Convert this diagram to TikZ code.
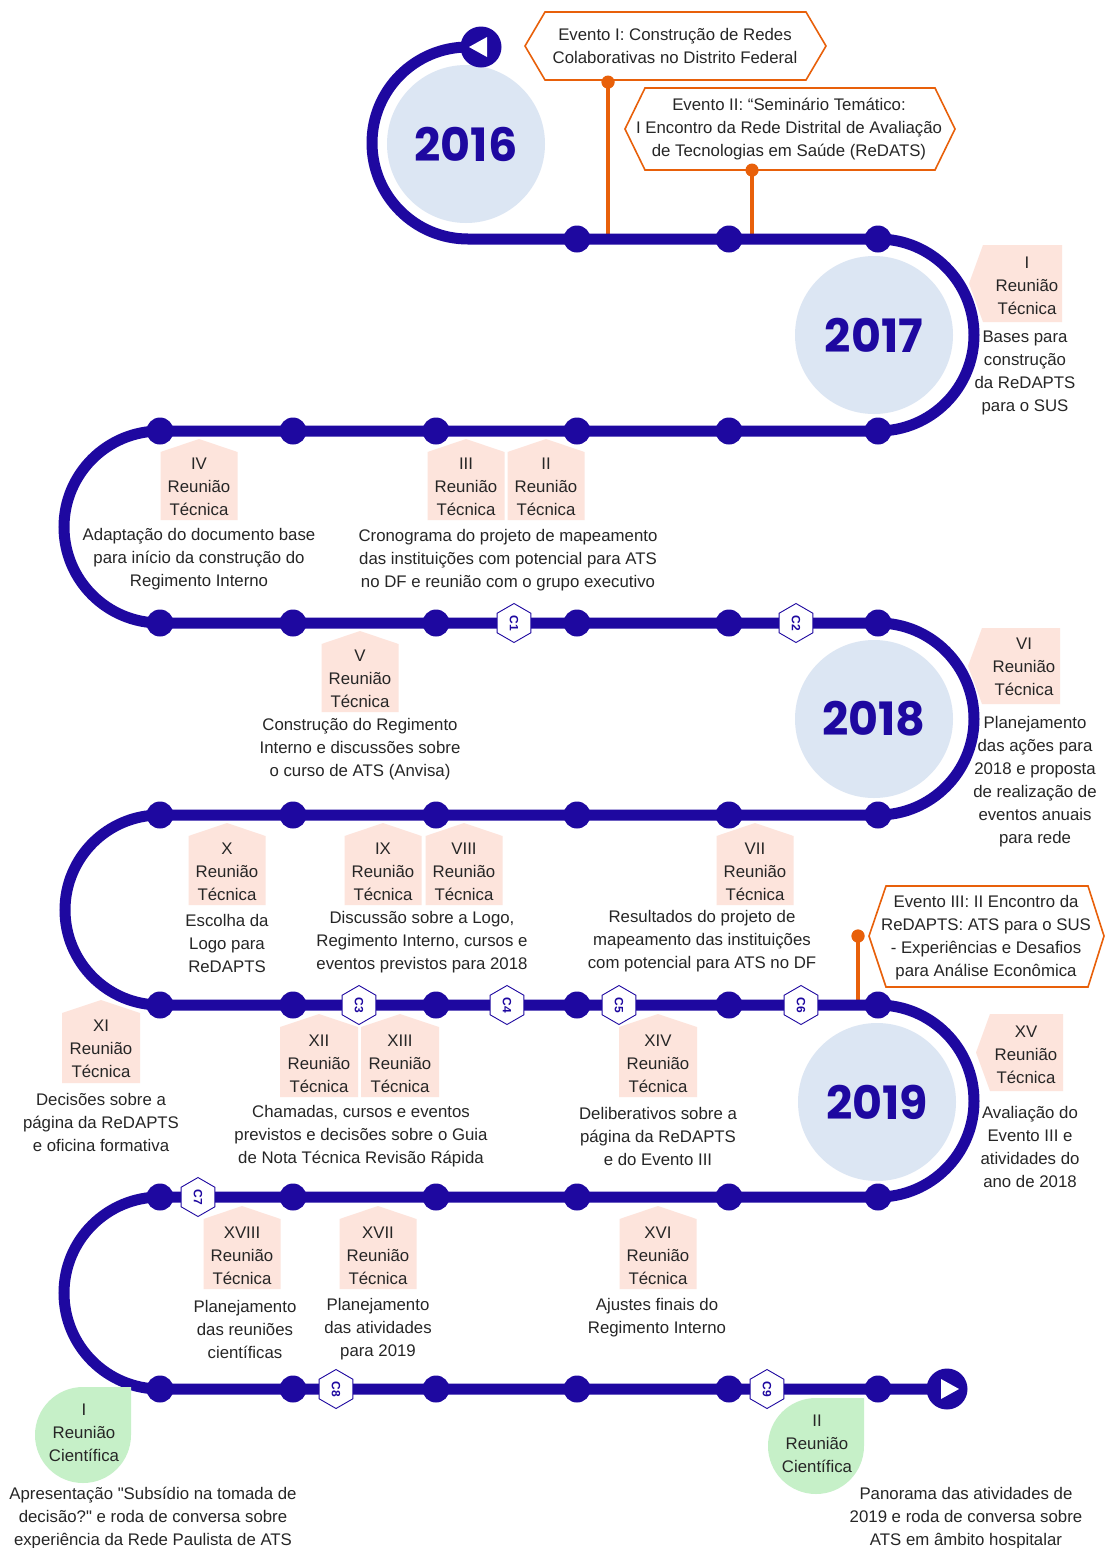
\documentclass[tikz,border=0pt]{standalone}
\usepackage{fontspec}
\setmainfont{Liberation Sans}[Ligatures=TeXOff]
\newfontfamily\yearfont{Poppins}
\usetikzlibrary{shapes.geometric}
\definecolor{trackblue}{RGB}{30,8,160}
\definecolor{yearfill}{RGB}{220,230,243}
\definecolor{pinkfill}{RGB}{253,228,220}
\definecolor{greenfill}{RGB}{198,240,200}
\definecolor{orangec}{RGB}{232,96,10}
\definecolor{textgray}{RGB}{38,38,38}
\tikzset{
 track/.style={draw=trackblue, line width=11},
 dotn/.style={circle, fill=trackblue, minimum size=27, inner sep=0},
 endn/.style={circle, fill=trackblue, minimum size=41, inner sep=0},
 txt/.style={align=center, inner sep=0, text=textgray, font=\fontsize{16.8}{23}\selectfont},
 yearn/.style={circle, fill=yearfill, minimum size=158, inner sep=0, text=trackblue, font=\yearfont\bfseries\fontsize{46}{46}\selectfont},
 hexm/.style={regular polygon, regular polygon sides=6, minimum size=39, inner sep=0, draw=trackblue, line width=0.9, fill=white, text=trackblue, font=\bfseries\fontsize{12}{12}\selectfont, rotate=-90},
 evbox/.style={draw=orangec, line width=1.6, fill=white},
 stem/.style={draw=orangec, line width=4.5},
 stemdot/.style={circle, fill=orangec, minimum size=13, inner sep=0},
}
\newcommand{\uplab}[4]{\fill[pinkfill] ({#1-#4},#3) -- ({#1-#4},{#2+13}) -- (#1,#2) -- ({#1+#4},{#2+13}) -- ({#1+#4},#3) -- cycle;}
\newcommand{\leftlab}[5]{\fill[pinkfill] (#1,{(#3+#4)/2}) -- ({#1+#5},#3) -- (#2,#3) -- (#2,#4) -- ({#1+#5},#4) -- cycle;}
\newcommand{\gblob}[3]{\fill[greenfill] ({#1+#3},#2) arc[start angle=0, end angle=270, radius=#3] -- ({#1+#3},{#2-#3}) -- cycle;}
\begin{document}
\begin{tikzpicture}[x=1pt,y=-1pt]
\useasboundingbox (0,0) rectangle (1106,1548);
\fill[white] (0,0) rectangle (1106,1548);

% year circles
\node[yearn] (y2016) at (466,144) {2016};
\node[yearn] (y2017) at (874,335) {2017};
\node[yearn] (y2018) at (874,719) {2018};
\node[yearn] (y2019) at (877,1102) {2019};

% event stems
\node[stemdot] (ev1dot) at (608,82) {};
\node[stemdot] (ev2dot) at (752,170) {};
\node[stemdot] (ev3dot) at (858,936) {};
\coordinate (s1) at (608,239);
\coordinate (s2) at (752,239);
\coordinate (s3) at (858,1005);
\draw[stem] (ev1dot.center) -- (s1);
\draw[stem] (ev2dot.center) -- (s2);
\draw[stem] (ev3dot.center) -- (s3);

% track
\draw[track] (481,47) -- (468,47) arc[start angle=270, end angle=90, radius=96]
  -- (878,239) arc[start angle=270, end angle=450, radius=96]
  -- (160,431) arc[start angle=270, end angle=90, radius=96]
  -- (878,623) arc[start angle=270, end angle=450, radius=96]
  -- (160,815) arc[start angle=270, end angle=90, radius=95]
  -- (878,1005) arc[start angle=270, end angle=450, radius=96]
  -- (160,1197) arc[start angle=270, end angle=90, radius=96]
  -- (947,1389);

% dots
\foreach \x in {577,729,878} \node[dotn] (dA-\x) at (\x,239) {};
\foreach \r/\y in {B/431,C/623,D/815,E/1005,F/1197,G/1389}
  \foreach \x in {160,293,436,577,729,878} \node[dotn] (d\r-\x) at (\x,\y) {};

% start / end
\node[endn] (start) at (481,47) {};
\fill[white] (469,47) -- (487,37) -- (487,57) -- cycle;
\node[endn] (finish) at (947,1389) {};
\fill[white] (959,1389) -- (941,1379) -- (941,1399) -- cycle;

% hexagon markers
\node[hexm] (c1) at (514,623) {C1};
\node[hexm] (c2) at (796,623) {C2};
\node[hexm] (c3) at (359,1005) {C3};
\node[hexm] (c4) at (507,1005) {C4};
\node[hexm] (c5) at (619,1005) {C5};
\node[hexm] (c6) at (801,1005) {C6};
\node[hexm] (c7) at (198,1197) {C7};
\node[hexm] (c8) at (336,1389) {C8};
\node[hexm] (c9) at (767,1389) {C9};

% event boxes
\draw[evbox] (525,46) -- (545,12) -- (806,12) -- (826,46) -- (806,80) -- (545,80) -- cycle;
\node[txt, text=black!85] (ev1) at (675,46) {Evento I: Construção de Redes\\Colaborativas no Distrito Federal};
\draw[evbox] (625,129) -- (645,88) -- (935,88) -- (955,129) -- (935,170) -- (645,170) -- cycle;
\node[txt, text=black!85] (ev2) at (789,129) {Evento II: “Seminário Temático:\\I Encontro da Rede Distrital de Avaliação\\de Tecnologias em Saúde (ReDATS)};
\draw[evbox] (869,936) -- (886,886) -- (1088,886) -- (1104,936) -- (1088,987) -- (886,987) -- cycle;
\node[txt, text=black!85] (ev3) at (986,938) {Evento III: II Encontro da\\ReDAPTS: ATS para o SUS\\- Experiências e Desafios\\para Análise Econômica};
\node[stemdot] at (ev1dot) {};
\node[stemdot] at (ev2dot) {};
\node[stemdot] at (ev3dot) {};

% pink labels
\leftlab{969}{1062}{245}{322}{14}
\node[txt] (l1) at (1027,286) {I\\Reunião\\Técnica};
\node[txt] (t1) at (1025,373) {Bases para\\construção\\da ReDAPTS\\para o SUS};

\uplab{199}{439}{520}{38.5}
\node[txt] (l4) at (199,487) {IV\\Reunião\\Técnica};
\node[txt] (t4) at (199,559) {Adaptação do documento base\\para início da construção do\\Regimento Interno};

\uplab{466}{439}{520}{38.5}
\uplab{546}{439}{520}{38.5}
\node[txt] (l3) at (466,487) {III\\Reunião\\Técnica};
\node[txt] (l2) at (546,487) {II\\Reunião\\Técnica};
\node[txt] (t23) at (508,560) {Cronograma do projeto de mapeamento\\das instituições com potencial para ATS\\no DF e reunião com o grupo executivo};

\uplab{360}{631}{712}{38.5}
\node[txt] (l5) at (360,679) {V\\Reunião\\Técnica};
\node[txt] (t5) at (360,749) {Construção do Regimento\\Interno e discussões sobre\\o curso de ATS (Anvisa)};

\leftlab{968}{1060}{628}{704}{14}
\node[txt] (l6) at (1024,667) {VI\\Reunião\\Técnica};
\node[txt] (t6) at (1035,782) {Planejamento\\das ações para\\2018 e proposta\\de realização de\\eventos anuais\\para rede};

\uplab{227}{823}{905}{38.5}
\node[txt] (l10) at (227,872) {X\\Reunião\\Técnica};
\node[txt] (t10) at (227,943) {Escolha da\\Logo para\\ReDAPTS};

\uplab{383}{823}{905}{38.5}
\uplab{464}{823}{905}{38.5}
\node[txt] (l9) at (383,872) {IX\\Reunião\\Técnica};
\node[txt] (l8) at (464,872) {VIII\\Reunião\\Técnica};
\node[txt] (t89) at (422,942) {Discussão sobre a Logo,\\Regimento Interno, cursos e\\eventos previstos para 2018};

\uplab{755}{823}{905}{38.5}
\node[txt] (l7) at (755,872) {VII\\Reunião\\Técnica};
\node[txt] (t7) at (702,941) {Resultados do projeto de\\mapeamento das instituições\\com potencial para ATS no DF};

\uplab{101}{1000}{1083}{39}
\node[txt] (l11) at (101,1049) {XI\\Reunião\\Técnica};
\node[txt] (t11) at (101,1122) {Decisões sobre a\\página da ReDAPTS\\e oficina formativa};

\uplab{319}{1014}{1097}{39}
\uplab{400}{1014}{1097}{39}
\node[txt] (l12) at (319,1064) {XII\\Reunião\\Técnica};
\node[txt] (l13) at (400,1064) {XIII\\Reunião\\Técnica};
\node[txt] (t1213) at (361,1136) {Chamadas, cursos e eventos\\previstos e decisões sobre o Guia\\de Nota Técnica Revisão Rápida};

\uplab{658}{1014}{1097}{39}
\node[txt] (l14) at (658,1064) {XIV\\Reunião\\Técnica};
\node[txt] (t14) at (658,1136) {Deliberativos sobre a\\página da ReDAPTS\\e do Evento III};

\leftlab{976}{1063}{1014}{1091}{14}
\node[txt] (l15) at (1026,1055) {XV\\Reunião\\Técnica};
\node[txt] (t15) at (1030,1147) {Avaliação do\\Evento III e\\atividades do\\ano de 2018};

\uplab{242}{1206}{1289}{38.5}
\node[txt] (l18) at (242,1256) {XVIII\\Reunião\\Técnica};
\node[txt] (t18) at (245,1329) {Planejamento\\das reuniões\\científicas};

\uplab{378}{1206}{1289}{38.5}
\node[txt] (l17) at (378,1256) {XVII\\Reunião\\Técnica};
\node[txt] (t17) at (378,1329) {Planejamento\\das atividades\\para 2019};

\uplab{658}{1206}{1289}{38.5}
\node[txt] (l16) at (658,1256) {XVI\\Reunião\\Técnica};
\node[txt] (t16) at (657,1318) {Ajustes finais do\\Regimento Interno};

% green blobs
\gblob{83}{1435}{48}
\node[txt] (rc1) at (84,1433) {I\\Reunião\\Científica};
\node[txt] (trc1) at (153,1518) {Apresentação "Subsídio na tomada de\\decisão?" e roda de conversa sobre\\experiência da Rede Paulista de ATS};

\gblob{816}{1446}{48}
\node[txt] (rc2) at (817,1444) {II\\Reunião\\Científica};
\node[txt] (trc2) at (966,1518) {Panorama das atividades de\\2019 e roda de conversa sobre\\ATS em âmbito hospitalar};
\end{tikzpicture}
\end{document}
